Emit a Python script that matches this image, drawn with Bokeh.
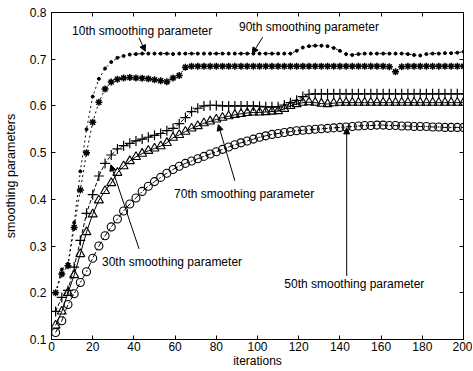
import math
from bokeh.plotting import figure
from bokeh.models import (ColumnDataSource, LinearAxis, Range1d, FixedTicker, Label,
                          Arrow, NormalHead, PrintfTickFormatter)
from bokeh.embed import file_html
from bokeh.resources import INLINE

# ---------------- data ----------------
iterations = [2, 5, 8, 11, 14, 17, 20, 23, 26, 29, 32, 35, 38, 41, 44, 47, 50, 53, 56, 59,
              62, 65, 68, 71, 74, 77, 80, 83, 86, 89, 92, 95, 98, 101, 104, 107, 110, 113, 116, 119,
              122, 125, 128, 131, 134, 137, 140, 143, 146, 149, 152, 155, 158, 161, 164, 167, 170, 173, 176, 179,
              182, 185, 188, 191, 194, 197, 200]

p10 = [0.200, 0.250, 0.262, 0.350, 0.460, 0.550, 0.620, 0.658, 0.680, 0.694, 0.703, 0.707, 0.710, 0.711, 0.712, 0.712, 0.712, 0.712, 0.712, 0.711,
       0.712, 0.712, 0.712, 0.712, 0.712, 0.712, 0.712, 0.712, 0.712, 0.712, 0.712, 0.712, 0.712, 0.712, 0.712, 0.712, 0.712, 0.712, 0.712, 0.718,
       0.725, 0.728, 0.729, 0.729, 0.728, 0.724, 0.718, 0.711, 0.709, 0.711, 0.712, 0.712, 0.712, 0.712, 0.712, 0.712, 0.712, 0.711, 0.709, 0.708,
       0.711, 0.712, 0.712, 0.713, 0.713, 0.714, 0.716]

p90 = [0.200, 0.240, 0.258, 0.340, 0.420, 0.500, 0.565, 0.608, 0.636, 0.651, 0.657, 0.660, 0.661, 0.660, 0.659, 0.658, 0.656, 0.654, 0.652, 0.660,
       0.665, 0.683, 0.685, 0.685, 0.685, 0.685, 0.685, 0.685, 0.685, 0.685, 0.685, 0.685, 0.685, 0.685, 0.685, 0.685, 0.685, 0.685, 0.685, 0.685,
       0.685, 0.685, 0.685, 0.685, 0.685, 0.685, 0.685, 0.685, 0.685, 0.685, 0.685, 0.685, 0.685, 0.685, 0.684, 0.673, 0.684, 0.685, 0.685, 0.685,
       0.685, 0.685, 0.685, 0.685, 0.685, 0.685, 0.685]

p30 = [0.160, 0.190, 0.205, 0.255, 0.312, 0.370, 0.410, 0.450, 0.477, 0.495, 0.508, 0.515, 0.520, 0.525, 0.529, 0.533, 0.537, 0.541, 0.547, 0.552,
       0.562, 0.575, 0.588, 0.595, 0.600, 0.601, 0.601, 0.600, 0.600, 0.600, 0.600, 0.600, 0.600, 0.599, 0.598, 0.598, 0.598, 0.602, 0.607, 0.612,
       0.620, 0.625, 0.626, 0.626, 0.626, 0.626, 0.626, 0.626, 0.626, 0.626, 0.626, 0.626, 0.626, 0.626, 0.626, 0.626, 0.626, 0.626, 0.626, 0.626,
       0.626, 0.626, 0.626, 0.626, 0.626, 0.626, 0.626]

p70 = [0.130, 0.160, 0.200, 0.238, 0.283, 0.330, 0.368, 0.398, 0.418, 0.435, 0.457, 0.471, 0.482, 0.491, 0.498, 0.504, 0.509, 0.514, 0.521, 0.532,
       0.538, 0.545, 0.552, 0.557, 0.563, 0.567, 0.571, 0.575, 0.578, 0.581, 0.583, 0.585, 0.586, 0.586, 0.587, 0.588, 0.589, 0.594, 0.600, 0.604,
       0.607, 0.608, 0.607, 0.605, 0.604, 0.606, 0.607, 0.607, 0.607, 0.607, 0.607, 0.607, 0.607, 0.607, 0.607, 0.607, 0.607, 0.607, 0.607, 0.607,
       0.607, 0.607, 0.607, 0.607, 0.607, 0.607, 0.607]

p50 = [0.115, 0.140, 0.175, 0.198, 0.222, 0.245, 0.274, 0.300, 0.322, 0.341, 0.358, 0.375, 0.390, 0.403, 0.417, 0.428, 0.438, 0.447, 0.456, 0.464,
       0.471, 0.477, 0.482, 0.487, 0.492, 0.497, 0.502, 0.507, 0.512, 0.517, 0.521, 0.525, 0.529, 0.533, 0.536, 0.539, 0.541, 0.543, 0.545, 0.547,
       0.548, 0.549, 0.550, 0.551, 0.552, 0.553, 0.554, 0.555, 0.556, 0.557, 0.558, 0.558, 0.559, 0.559, 0.558, 0.558, 0.557, 0.557, 0.556, 0.556,
       0.556, 0.555, 0.555, 0.554, 0.554, 0.554, 0.554]

x_ticks = [0, 20, 40, 60, 80, 100, 120, 140, 160, 180, 200]
y_ticks = [0.1, 0.2, 0.3, 0.4, 0.5, 0.6, 0.7, 0.8]

src = ColumnDataSource(dict(x=iterations, p10=p10, p90=p90, p30=p30, p70=p70, p50=p50))

FONT = "Liberation Sans"

p = figure(width=472, height=370, output_backend="svg", toolbar_location=None,
           x_range=Range1d(0, 200), y_range=Range1d(0.1, 0.8),
           min_border_left=48, min_border_right=9, min_border_top=12, min_border_bottom=31)
p.background_fill_color = "white"
p.border_fill_color = "white"
p.outline_line_color = "black"
p.outline_line_width = 1
p.xgrid.visible = False
p.ygrid.visible = False

# main axes
for ax in (p.xaxis[0], p.yaxis[0]):
    ax.axis_line_color = "black"
    ax.major_tick_in = 4
    ax.major_tick_out = 0
    ax.minor_tick_line_color = None
    ax.major_label_text_font = FONT
    ax.major_label_text_font_size = "12px"
    ax.major_label_text_color = "black"
    ax.axis_label_text_font = FONT
    ax.axis_label_text_font_style = "normal"
    ax.axis_label_text_color = "black"

p.xaxis[0].ticker = FixedTicker(ticks=x_ticks)
p.yaxis[0].ticker = FixedTicker(ticks=y_ticks)
p.yaxis[0].formatter = PrintfTickFormatter(format="%.1f")
p.xaxis[0].axis_label = "iterations"
p.yaxis[0].axis_label = "smoothing parameters"
p.xaxis[0].axis_label_text_font_size = "12px"
p.yaxis[0].axis_label_text_font_size = "12.5px"
p.xaxis[0].major_label_standoff = 2
p.xaxis[0].axis_label_standoff = 0
p.yaxis[0].major_label_standoff = 5
p.yaxis[0].axis_label_standoff = 9

# box ticks on top and right (no labels)
top = LinearAxis(ticker=FixedTicker(ticks=x_ticks), major_tick_in=4, major_tick_out=0,
                 minor_tick_line_color=None, major_label_standoff=0, axis_line_color="black",
                 major_label_overrides={t: "" for t in x_ticks})
right = LinearAxis(ticker=FixedTicker(ticks=y_ticks), major_tick_in=4, major_tick_out=0,
                   minor_tick_line_color=None, major_label_standoff=0, axis_line_color="black",
                   major_label_overrides={t: "" for t in y_ticks})
p.add_layout(top, "above")
p.add_layout(right, "right")

# ---------------- series ----------------
# 10th: dotted line with point markers
p.line("x", "p10", source=src, line_color="black", line_width=1, line_dash="2 3")
p.scatter("x", "p10", source=src, marker="circle", size=3, line_color="black", fill_color="black")

# 90th: dotted line with star markers
p.line("x", "p90", source=src, line_color="black", line_width=1, line_dash="2 3")
p.scatter("x", "p90", source=src, marker="asterisk", size=7, line_color="black", line_width=1.5)

# 30th: plus markers
p.line("x", "p30", source=src, line_color="black", line_width=1, line_dash="4 2")
p.scatter("x", "p30", source=src, marker="cross", size=10, line_color="black", line_width=1.2)

# 70th: triangles
p.line("x", "p70", source=src, line_color="black", line_width=1)
p.scatter("x", "p70", source=src, marker="triangle", size=9, line_color="black",
          fill_color=None, line_width=1.1)

# 50th: circles
p.line("x", "p50", source=src, line_color="black", line_width=1, line_dash="6 2 2 2")
p.scatter("x", "p50", source=src, marker="circle", size=8, line_color="black",
          fill_color=None, line_width=1.1)

# ---------------- annotations ----------------
def lab(x, y, t):
    p.add_layout(Label(x=x, y=y, text=t, text_font=FONT, text_font_size="12px",
                       text_color="black", text_baseline="middle", text_align="left"))

lab(10, 0.760, "10th smoothing parameter")
lab(91, 0.768, "90th smoothing parameter")
lab(59.5, 0.411, "70th smoothing parameter")
lab(24.5, 0.265, "30th smoothing parameter")
lab(113, 0.219, "50th smoothing parameter")

def arr(x0, y0, x1, y1):
    p.add_layout(Arrow(end=NormalHead(size=6, fill_color="black", line_color="black"),
                       x_start=x0, y_start=y0, x_end=x1, y_end=y1,
                       line_color="black", line_width=1))

arr(42.5, 0.746, 45.5, 0.717)
arr(102.5, 0.747, 97.5, 0.712)
arr(89, 0.440, 81, 0.560)
arr(42.5, 0.294, 28.8, 0.474)
arr(143.3, 0.236, 143.3, 0.553)

open("out.html", "w").write(file_html(p, INLINE))
